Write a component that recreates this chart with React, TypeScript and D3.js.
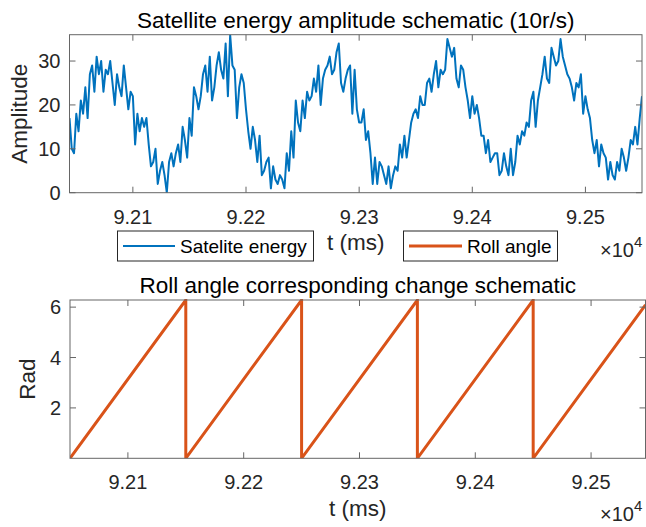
import * as d3 from "d3";

// sampled every 2 ms starting at 92044 ms
const energyStart = 92044;
const energyStep = 2;
const energyValues = [
  17, 10, 9, 18, 14, 21, 18, 24, 17, 27, 29, 23, 31, 27, 30, 23, 28, 27, 30, 25,
  20, 27, 24, 22, 29, 24, 19, 23, 22, 11, 18, 14, 17, 15, 17, 11, 6, 7, 10, 2,
  5, 7, 4, 0, 7, 9, 6, 9, 11, 7, 15, 12,
  8, 17, 13, 24, 22, 19, 22, 27, 29, 23, 31, 21, 24, 29, 32, 28, 26, 34, 22, 36,
  29, 28, 17, 24, 27, 25, 19, 14, 10, 15, 12, 7, 13, 4, 5, 7, 8, 1, 6, 3,
  2, 4, 3, 1, 9, 5, 14, 8, 21, 16, 14,
  21, 17, 23, 21, 22, 26, 23, 29, 20, 26, 28, 29, 31, 27, 28, 32, 34, 25, 23, 26,
  28, 29, 18, 28, 19, 16, 16, 19, 12, 14, 9, 2, 8, 2, 7, 6, 4, 2, 6, 1,
  4, 6, 5, 11, 8, 13, 8, 12, 16, 18, 19,
  17, 22, 20, 20, 25, 26, 23, 27, 30, 24, 28, 27, 28, 35, 33, 31, 33, 26, 24, 29,
  28, 24, 21, 17, 22, 18, 20, 17, 13, 13, 9, 12, 7, 8, 9, 9, 4, 5, 9, 6,
  4, 10, 4, 7, 13, 11, 14, 13, 16, 15, 21,
  23, 15, 21, 24, 27, 31, 26, 25, 33, 31, 29, 30, 35, 31, 29, 27, 26, 24, 21, 25,
  24, 27, 18, 22, 19, 17, 12, 9, 12, 6, 11, 9, 8, 3, 7, 4, 3, 7, 5, 10,
  8, 5, 8, 12, 11, 15, 11, 17, 22,
];

const rollTimes = [92050, 92150, 92150, 92250, 92250, 92350, 92350, 92450, 92450, 92547];
const rollValues = [0, 6.283, 0, 6.283, 0, 6.283, 0, 6.283, 0, 6.09];

const timeTicks = [92100, 92200, 92300, 92400, 92500];
const energyTicks = [0, 10, 20, 30];
const rollTicks = [2, 4, 6];

const FONT = "'Liberation Sans', Arial, Helvetica, sans-serif";
const TXT = "#262626";
const AXC = "#666666";
const BLUE = "#0072BD";
const ORANGE = "#D95319";

type Box = { left: number; right: number; top: number; bottom: number };

function Frame({ box, x, y, yTicks, id }: { box: Box; x: any; y: any; yTicks: number[]; id: string }) {
  const tl = 6;
  return (
    <g>
      <rect x={box.left} y={box.top} width={box.right - box.left} height={box.bottom - box.top}
        fill="none" stroke={AXC} strokeWidth={1} />
      {timeTicks.map((t) => (
        <g key={id + "x" + t}>
          <line x1={x(t)} x2={x(t)} y1={box.bottom} y2={box.bottom - tl} stroke={AXC} />
          <line x1={x(t)} x2={x(t)} y1={box.top} y2={box.top + tl} stroke={AXC} />
          <text x={x(t)} y={box.bottom + 31} textAnchor="middle" fontSize={20} fill={TXT}>
            {(t / 1e4).toFixed(2)}
          </text>
        </g>
      ))}
      {yTicks.map((v) => (
        <g key={id + "y" + v}>
          <line x1={box.left} x2={box.left + tl} y1={y(v)} y2={y(v)} stroke={AXC} />
          <line x1={box.right} x2={box.right - tl} y1={y(v)} y2={y(v)} stroke={AXC} />
          <text x={box.left - 9} y={y(v) + 7} textAnchor="end" fontSize={20} fill={TXT}>
            {v}
          </text>
        </g>
      ))}
    </g>
  );
}

export default function App() {
  const W = 646;
  const H = 527;
  const topBox: Box = { left: 69.5, right: 642, top: 34.7, bottom: 192.7 };
  const botBox: Box = { left: 70, right: 645.5, top: 300, bottom: 458.3 };

  const x1 = d3.scaleLinear().domain([92044, 92550]).range([topBox.left, topBox.right]);
  const y1 = d3.scaleLinear().domain([0, 36]).range([topBox.bottom, topBox.top]);
  const x2 = d3.scaleLinear().domain([92050, 92547]).range([botBox.left, botBox.right]);
  const y2 = d3.scaleLinear().domain([0, 2 * Math.PI]).range([botBox.bottom, botBox.top]);

  const energyLine = d3
    .line<number>()
    .x((_, i) => x1(energyStart + i * energyStep))
    .y((d) => y1(d))(energyValues) as string;

  const rollLine = d3
    .line<number>()
    .x((_, i) => x2(rollTimes[i]))
    .y((d) => y2(d))(rollValues) as string;

  const cx1 = (topBox.left + topBox.right) / 2;
  const cx2 = (botBox.left + botBox.right) / 2;

  return (
    <div style={{ position: "absolute", left: 0, top: 0 }}>
      <svg width={W} height={H} style={{ display: "block", background: "#fff" }} fontFamily={FONT}>
        <defs>
          <clipPath id="clipTop">
            <rect x={topBox.left} y={topBox.top} width={topBox.right - topBox.left} height={topBox.bottom - topBox.top} />
          </clipPath>
          <clipPath id="clipBot">
            <rect x={botBox.left} y={botBox.top - 1} width={botBox.right - botBox.left} height={botBox.bottom - botBox.top + 1} />
          </clipPath>
        </defs>

        {/* top subplot */}
        <text x={cx1} y={28} textAnchor="middle" fontSize={22.5} fill="#000">
          Satellite energy amplitude schematic (10r/s)
        </text>
        <path d={energyLine} fill="none" stroke={BLUE} strokeWidth={2} strokeLinejoin="round" clipPath="url(#clipTop)" />
        <Frame box={topBox} x={x1} y={y1} yTicks={energyTicks} id="t" />
        <text transform={`translate(27,${(topBox.top + topBox.bottom) / 2}) rotate(-90)`} textAnchor="middle"
          fontSize={22.5} fill={TXT}>
          Amplitude
        </text>
        <text x={cx1} y={250} textAnchor="middle" fontSize={22.5} fill={TXT}>t (ms)</text>
        <text x={600} y={257} fontSize={20} fill={TXT}>
          ×10<tspan fontSize={15} dy={-10}>4</tspan>
        </text>

        {/* legend */}
        <rect x={117.5} y={231} width={196} height={30} fill="#fff" stroke={TXT} strokeWidth={1} />
        <line x1={123} x2={175} y1={246} y2={246} stroke={BLUE} strokeWidth={2} />
        <text x={180} y={253} fontSize={19} fill="#000">Satelite energy</text>
        <rect x={403.5} y={231} width={154} height={30} fill="#fff" stroke={TXT} strokeWidth={1} />
        <line x1={409} x2={462} y1={246} y2={246} stroke={ORANGE} strokeWidth={3} />
        <text x={467} y={253} fontSize={19} fill="#000">Roll angle</text>

        {/* bottom subplot */}
        <text x={cx2} y={293} textAnchor="middle" fontSize={22.5} fill="#000">
          Roll angle corresponding change schematic
        </text>
        <path d={rollLine} fill="none" stroke={ORANGE} strokeWidth={3} clipPath="url(#clipBot)" />
        <Frame box={botBox} x={x2} y={y2} yTicks={rollTicks} id="b" />
        <text transform={`translate(35,${(botBox.top + botBox.bottom) / 2}) rotate(-90)`} textAnchor="middle"
          fontSize={22.5} fill={TXT}>
          Rad
        </text>
        <text x={cx2} y={516} textAnchor="middle" fontSize={22.5} fill={TXT}>t (ms)</text>
        <text x={600} y={521} fontSize={20} fill={TXT}>
          ×10<tspan fontSize={15} dy={-10}>4</tspan>
        </text>
      </svg>
    </div>
  );
}
